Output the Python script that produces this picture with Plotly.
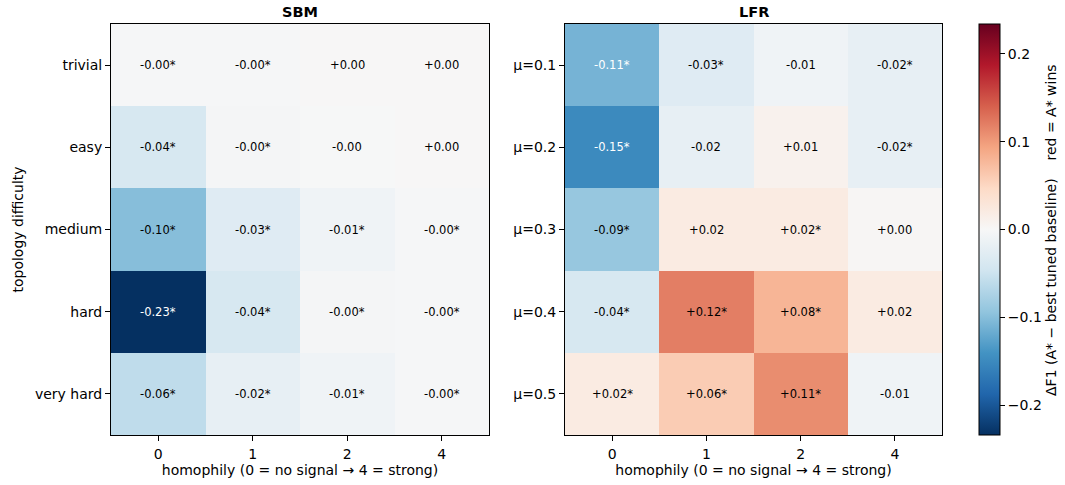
import plotly.graph_objects as go

# ---- data ----
homophily = ["0", "1", "2", "4"]
sbm_rows = ["trivial", "easy", "medium", "hard", "very hard"]
lfr_rows = ["μ=0.1", "μ=0.2", "μ=0.3", "μ=0.4", "μ=0.5"]

sbm_vals = [
    [-0.003, -0.002, 0.001, 0.001],
    [-0.040, -0.004, -0.001, 0.001],
    [-0.100, -0.030, -0.010, -0.003],
    [-0.234, -0.040, -0.004, -0.002],
    [-0.060, -0.020, -0.010, -0.003],
]
sbm_sig = [
    [True, True, False, False],
    [True, True, False, False],
    [True, True, True, True],
    [True, True, True, True],
    [True, True, True, True],
]
lfr_vals = [
    [-0.110, -0.030, -0.010, -0.020],
    [-0.150, -0.020, 0.010, -0.020],
    [-0.090, 0.020, 0.020, 0.003],
    [-0.040, 0.120, 0.080, 0.020],
    [0.020, 0.060, 0.110, -0.010],
]
lfr_sig = [
    [True, True, False, True],
    [True, False, False, True],
    [True, False, True, False],
    [True, True, True, False],
    [True, True, True, False],
]

VMAX = 0.234
rdbu_r = ["#053061", "#2166ac", "#4393c3", "#92c5de", "#d1e5f0", "#f7f7f7",
          "#fddbc7", "#f4a582", "#d6604d", "#b2182b", "#67001f"]
colorscale = [[i / (len(rdbu_r) - 1), c] for i, c in enumerate(rdbu_r)]

W, H = 1065, 485
FONT = "DejaVu Sans"

xi = list(range(len(homophily)))
yi = list(range(len(sbm_rows)))

fig = go.Figure()
fig.add_trace(go.Heatmap(z=sbm_vals, x=xi, y=yi, coloraxis="coloraxis",
                         xaxis="x", yaxis="y", hoverinfo="skip"))
fig.add_trace(go.Heatmap(z=lfr_vals, x=xi, y=yi, coloraxis="coloraxis",
                         xaxis="x2", yaxis="y2", hoverinfo="skip"))

annotations = []
for vals, sig, xr, yr in [(sbm_vals, sbm_sig, "x", "y"), (lfr_vals, lfr_sig, "x2", "y2")]:
    for i in yi:
        for j in xi:
            v = vals[i][j]
            txt = f"{v:+.2f}" + ("*" if sig[i][j] else "")
            col = "white" if v < -0.105 else "black"
            annotations.append(dict(x=j, y=i, xref=xr, yref=yr, text=txt, showarrow=False,
                                    xanchor="center", yanchor="middle",
                                    font=dict(size=11.5, color=col, family=FONT)))

x1d = [111 / W, 489 / W]
x2d = [565 / W, 942 / W]
yd = [1 - 435 / H, 1 - 24 / H]
for dom, t in [(x1d, "SBM"), (x2d, "LFR")]:
    annotations.append(dict(x=sum(dom) / 2, y=1 - 12 / H, xref="paper", yref="paper",
                            text=f"<b>{t}</b>", showarrow=False, xanchor="center", yanchor="middle",
                            font=dict(size=14.5, family=FONT, color="black")))
nb = "\u00a0"
annotations.append(dict(x=1051 / W, y=1 - 230 / H, xref="paper", yref="paper",
                        text=f"ΔF1 (A* − best tuned baseline){nb*3} red = A* wins", textangle=-90,
                        showarrow=False, xanchor="center", yanchor="middle",
                        font=dict(size=14, family=FONT, color="black")))

axis_common = dict(showline=True, linecolor="black", linewidth=1, mirror=True, ticks="outside",
                   ticklen=5, tickcolor="black", tickfont=dict(size=14, family=FONT, color="black"),
                   showgrid=False, zeroline=False)
xtitle = dict(text="homophily (0 = no signal → 4 = strong)", font=dict(size=14), standoff=2)

fig.update_layout(
    width=W, height=H, margin=dict(l=0, r=0, t=0, b=0),
    paper_bgcolor="white", plot_bgcolor="white",
    font=dict(family=FONT, color="black"),
    xaxis=dict(domain=x1d, anchor="y", range=[-0.5, 3.5], tickvals=xi, ticktext=homophily,
               ticklabelstandoff=1, title=xtitle, **axis_common),
    yaxis=dict(domain=yd, anchor="x", range=[4.5, -0.5], tickvals=yi, ticktext=sbm_rows,
               title=dict(text="topology difficulty", font=dict(size=14), standoff=8), **axis_common),
    xaxis2=dict(domain=x2d, anchor="y2", range=[-0.5, 3.5], tickvals=xi, ticktext=homophily,
                ticklabelstandoff=1, title=xtitle, **axis_common),
    yaxis2=dict(domain=yd, anchor="x2", range=[4.5, -0.5], tickvals=yi, ticktext=lfr_rows,
                **axis_common),
    coloraxis=dict(colorscale=colorscale, cmin=-VMAX, cmax=VMAX,
                   colorbar=dict(x=979 / W, xanchor="left", y=yd[1], yanchor="top",
                                 len=yd[1] - yd[0], lenmode="fraction", thickness=21,
                                 thicknessmode="pixels", outlinewidth=1, outlinecolor="black",
                                 ticks="outside", ticklen=5, tickcolor="black",
                                 tickvals=[-0.2, -0.1, 0.0, 0.1, 0.2],
                                 ticktext=["−0.2", "−0.1", "0.0", "0.1", "0.2"],
                                 tickfont=dict(size=14, family=FONT, color="black"),
                                 xpad=0, ypad=0)),
    annotations=annotations,
)

fig.write_html("out.html")
